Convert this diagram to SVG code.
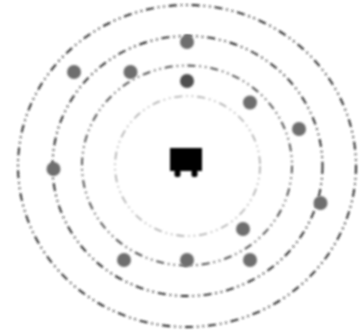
<svg xmlns="http://www.w3.org/2000/svg" width="364" height="331" viewBox="0 0 364 331">
<defs>
<style>
.ring{fill:none;stroke-linecap:butt;stroke-dasharray:8 4 1.500 4 1.500 4}
.n{fill:#6e6e6e}
</style>
<filter id="b" x="-20%" y="-20%" width="140%" height="140%"><feGaussianBlur stdDeviation="0.8"/></filter>
</defs>
<rect width="364" height="331" fill="#fff"/>
<g id="connectors" filter="url(#b)">
<ellipse class="ring" cx="187" cy="166" rx="169" ry="161" stroke="#222" stroke-width="1.900"/>
<ellipse class="ring" cx="187.500" cy="166" rx="135" ry="130" stroke="#222" stroke-width="1.900"/>
<ellipse class="ring" cx="187" cy="165.500" rx="105" ry="100" stroke="#444" stroke-width="1.800"/>
<ellipse class="ring" cx="187.500" cy="166" rx="72.500" ry="70" stroke="#aaa" stroke-width="1.600"/>
</g>
<g id="center" filter="url(#b)">
<rect x="170" y="148" width="32" height="23" fill="#000"/>
<rect x="174.500" y="170" width="6" height="7" rx="2" fill="#000"/>
<rect x="191.500" y="170" width="6" height="7" rx="2" fill="#000"/>
</g>
<g id="node-1" filter="url(#b)"><circle class="n" cx="187" cy="42" r="7"/></g>
<g id="node-2" filter="url(#b)"><circle class="n" cx="74" cy="72" r="7"/></g>
<g id="node-3" filter="url(#b)"><circle class="n" cx="130.500" cy="72" r="7"/></g>
<g id="node-4" filter="url(#b)"><circle cx="187" cy="81" r="7" fill="#505050"/></g>
<g id="node-5" filter="url(#b)"><circle class="n" cx="250" cy="102.500" r="7"/></g>
<g id="node-6" filter="url(#b)"><circle class="n" cx="299" cy="129" r="7"/></g>
<g id="node-7" filter="url(#b)"><circle class="n" cx="53.500" cy="169" r="7"/></g>
<g id="node-8" filter="url(#b)"><circle class="n" cx="320.500" cy="203" r="7"/></g>
<g id="node-9" filter="url(#b)"><circle class="n" cx="243" cy="229" r="7"/></g>
<g id="node-10" filter="url(#b)"><circle class="n" cx="124" cy="260" r="7"/></g>
<g id="node-11" filter="url(#b)"><circle class="n" cx="187" cy="260" r="7"/></g>
<g id="node-12" filter="url(#b)"><circle class="n" cx="250" cy="260" r="7"/></g>
</svg>
